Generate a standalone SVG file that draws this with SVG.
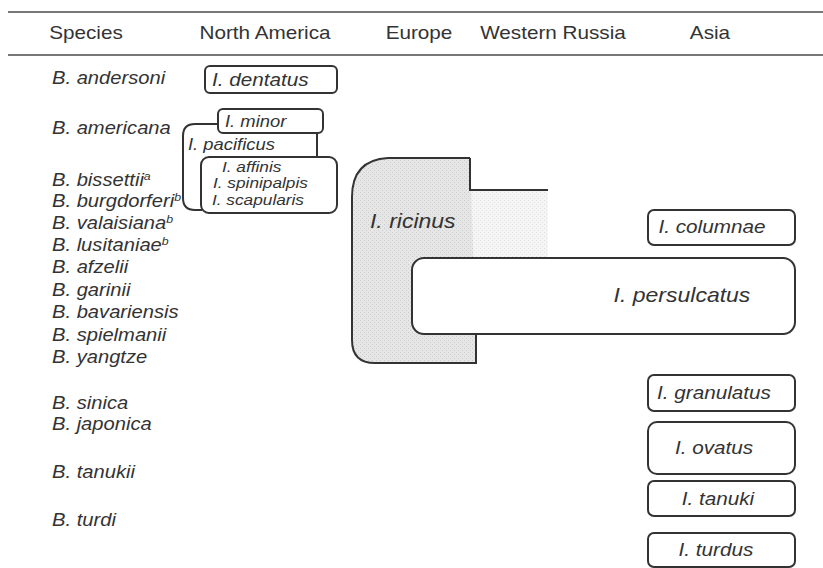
<svg xmlns="http://www.w3.org/2000/svg" width="823" height="568" viewBox="0 0 823 568">
<style>
text{font-family:"Liberation Sans",Arial,sans-serif;fill:#333;transform-box:fill-box;transform:scaleX(1.15);transform-origin:0% 50%}
.h{font-size:18px;text-anchor:middle;transform-origin:50% 50%}
.sp{font-size:18px;font-style:italic;transform:scaleX(1.12)}
.sup{font-size:11px}
.bx{fill:#fff;stroke:#333;stroke-width:2}
.t{font-style:italic}
.c{text-anchor:middle;transform-origin:50% 50%}
.rule{stroke:#777;stroke-width:2}
.ln{fill:none;stroke:#333;stroke-width:2}
</style>
<defs>
<pattern id="dots" width="4" height="4" patternUnits="userSpaceOnUse">
<rect width="4" height="4" fill="#e6e6e6"/>
<rect x="0" y="0" width="1" height="1" fill="#cacaca"/>
<rect x="2" y="2" width="1" height="1" fill="#cecece"/>
</pattern>
<pattern id="dots2" width="4" height="4" patternUnits="userSpaceOnUse">
<rect width="4" height="4" fill="#f5f5f5"/>
<rect x="0" y="0" width="1" height="1" fill="#dedede"/>
<rect x="2" y="2" width="1" height="1" fill="#e2e2e2"/>
</pattern>
</defs>
<rect width="823" height="568" fill="#fff"/>
<g id="header">
<line class="rule" x1="8" y1="12" x2="823" y2="12"/>
<line class="rule" x1="8" y1="55" x2="823" y2="55"/>
<text class="h" x="86" y="39">Species</text>
<text class="h" x="265" y="39">North America</text>
<text class="h" x="419" y="39">Europe</text>
<text class="h" x="553" y="39">Western Russia</text>
<text class="h" x="710" y="39">Asia</text>
</g>
<g id="species">
<text class="sp" x="52" y="84">B. andersoni</text>
<text class="sp" x="52" y="134">B. americana</text>
<text class="sp" x="52" y="186">B. bissettii<tspan class="sup" dy="-6">a</tspan></text>
<text class="sp" x="52" y="207">B. burgdorferi<tspan class="sup" dy="-6">b</tspan></text>
<text class="sp" x="52" y="229">B. valaisiana<tspan class="sup" dy="-6">b</tspan></text>
<text class="sp" x="52" y="251">B. lusitaniae<tspan class="sup" dy="-6">b</tspan></text>
<text class="sp" x="52" y="273">B. afzelii</text>
<text class="sp" x="52" y="296">B. garinii</text>
<text class="sp" x="52" y="318">B. bavariensis</text>
<text class="sp" x="52" y="341">B. spielmanii</text>
<text class="sp" x="52" y="363">B. yangtze</text>
<text class="sp" x="52" y="409">B. sinica</text>
<text class="sp" x="52" y="430">B. japonica</text>
<text class="sp" x="52" y="478">B. tanukii</text>
<text class="sp" x="52" y="526">B. turdi</text>
</g>
<g id="ricinus">
<rect x="468" y="190" width="80" height="68" fill="url(#dots2)"/>
<path d="M470,158 H388 Q352,160 352,197 V340 Q352,363 375,363 H476 V333" fill="url(#dots)" stroke="#333" stroke-width="2"/>
<path class="ln" d="M470,158 V190 H548"/>
<text class="t" x="370" y="228" font-size="20">I. ricinus</text>
</g>
<g id="persulcatus">
<rect class="bx" x="412" y="258" width="383" height="76" rx="12"/>
<text class="t c" x="682" y="302" font-size="20">I. persulcatus</text>
</g>
<g id="dentatus">
<rect class="bx" x="205" y="66" width="132" height="27" rx="5"/>
<text class="t" x="212" y="86" font-size="18">I. dentatus</text>
</g>
<g id="pacificus">
<path class="ln" d="M218,124 H195 Q183,124 183,136 V198 Q183,210 195,210 H202"/>
<path class="ln" d="M317,133 V157"/>
<text class="t" x="188" y="150" font-size="16">I. pacificus</text>
</g>
<g id="minor">
<rect class="bx" x="218" y="109" width="105" height="24" rx="5"/>
<text class="t" x="225" y="127" font-size="16">I. minor</text>
</g>
<g id="affinis">
<rect class="bx" x="201" y="157" width="136" height="56" rx="8"/>
<text class="t" x="222" y="172" font-size="15">I. affinis</text>
<text class="t" x="213" y="188" font-size="15">I. spinipalpis</text>
<text class="t" x="212" y="205" font-size="15">I. scapularis</text>
</g>
<g id="columnae">
<rect class="bx" x="648" y="210" width="147" height="35" rx="6"/>
<text class="t c" x="712" y="233" font-size="18">I. columnae</text>
</g>
<g id="granulatus">
<rect class="bx" x="648" y="375" width="147" height="36" rx="6"/>
<text class="t c" x="714" y="399" font-size="18">I. granulatus</text>
</g>
<g id="ovatus">
<rect class="bx" x="648" y="422" width="147" height="52" rx="9"/>
<text class="t c" x="714" y="454" font-size="18">I. ovatus</text>
</g>
<g id="tanuki">
<rect class="bx" x="648" y="481" width="147" height="35" rx="6"/>
<text class="t c" x="718" y="505" font-size="18">I. tanuki</text>
</g>
<g id="turdus">
<rect class="bx" x="648" y="533" width="147" height="34" rx="6"/>
<text class="t c" x="716" y="556" font-size="18">I. turdus</text>
</g>
</svg>
